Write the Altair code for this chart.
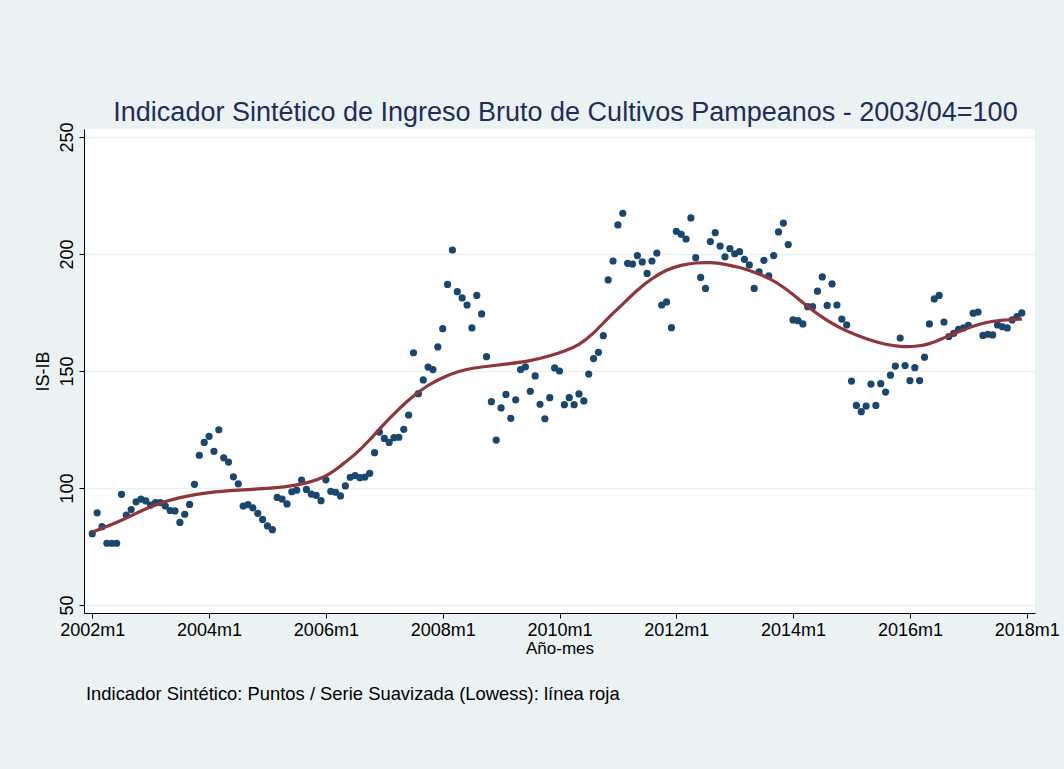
import altair as alt
import pandas as pd

# Indicador Sintético mensual, 2002m1 ... 2017m12 (192 meses)
indicador = [
    80.5, 89.4, 83.5, 76.4, 76.4, 76.4, 97.3, 88.4, 90.8, 94.1, 95.3, 94.5,
    92.7, 93.8, 93.8, 92.3, 90.4, 90.2, 85.3, 88.8, 93.0, 101.6, 114.0, 119.5,
    122.1, 115.7, 124.9, 112.9, 111.1, 104.8, 101.8, 92.3, 92.9, 91.5, 89.2, 86.6,
    83.8, 82.2, 96.0, 95.3, 93.2, 98.4, 99.1, 103.4, 99.4, 97.4, 96.9, 94.6,
    103.5, 98.6, 98.2, 96.6, 100.9, 104.6, 105.3, 104.4, 104.7, 106.3, 115.1, 123.9,
    121.2, 119.5, 121.5, 121.7, 125.1, 131.2, 157.8, 140.3, 146.2, 151.7, 150.6, 160.3,
    168.1, 187.0, 201.7, 183.9, 181.2, 178.2, 168.4, 182.3, 174.4, 156.1, 136.9, 120.5,
    134.2, 140.0, 129.8, 137.7, 150.6, 151.8, 141.3, 147.9, 135.8, 129.6, 138.6, 151.3,
    150.0, 135.6, 138.6, 135.6, 140.2, 137.2, 148.7, 155.3, 158.0, 165.1, 188.9, 197.0,
    212.4, 217.4, 196.0, 195.7, 199.3, 196.6, 191.7, 197.0, 200.4, 178.2, 179.5, 168.5,
    209.7, 208.4, 206.4, 215.4, 198.4, 190.0, 185.3, 205.3, 209.1, 203.4, 198.8, 202.3,
    200.1, 201.0, 197.7, 195.3, 185.3, 192.4, 197.3, 190.7, 199.3, 209.4, 213.2, 204.0,
    171.8, 171.5, 170.1, 177.5, 177.5, 184.1, 190.2, 178.0, 187.2, 178.2, 172.2, 169.7,
    145.7, 135.3, 132.6, 135.0, 144.4, 135.3, 144.6, 141.0, 148.2, 152.1, 164.1, 152.3,
    145.9, 151.4, 145.9, 155.9, 170.1, 180.8, 182.3, 170.9, 164.7, 166.1, 167.8, 168.4,
    169.5, 174.7, 175.2, 165.2, 165.7, 165.4, 169.7, 168.9, 168.4, 171.8, 173.2, 174.8,
]
meses = list(range(len(indicador)))  # 0 = 2002m1

# Serie suavizada (Lowess)
lowess_mes = [0, 6, 12, 18, 24, 30, 36, 42, 48, 51, 54, 57, 60, 63, 66, 69, 72, 75,
              78, 84, 90, 94, 97, 100, 103, 106, 109, 112, 115, 118, 121, 124, 127,
              130, 133, 136, 139, 142, 145, 148, 151, 154, 157, 160, 163, 166, 169,
              172, 175, 178, 181, 184, 187, 191]
lowess_val = [81.2, 85.9, 92.5, 96.2, 98.2, 99.1, 99.8, 100.9, 104.5, 109.5, 114.2,
              120.5, 127.5, 133.8, 139.5, 144.0, 147.3, 149.7, 151.3, 152.7, 154.2,
              156.4, 158.5, 161.0, 166.0, 172.8, 178.5, 184.7, 189.6, 193.3, 195.3,
              196.3, 196.4, 195.7, 194.3, 192.3, 189.8, 186.0, 181.0, 175.8, 171.5,
              168.0, 165.3, 163.0, 161.3, 160.4, 160.4, 161.4, 164.2, 166.8, 169.3,
              171.0, 171.8, 172.2]

x_ticks = [0, 24, 48, 72, 96, 120, 144, 168, 192]
y_ticks = [50, 100, 150, 200, 250]

titulo = "Indicador Sintético de Ingreso Bruto de Cultivos Pampeanos - 2003/04=100"
nota = "Indicador Sintético: Puntos / Serie Suavizada (Lowess): línea roja"

FONT = "Liberation Sans"
W, H = 951, 484

df_p = pd.DataFrame({"mes": meses, "valor": indicador})
df_l = pd.DataFrame({"mes": lowess_mes, "valor": lowess_val})

x_scale = alt.Scale(domain=[-1.7, 193.7], nice=False, zero=False)
y_scale = alt.Scale(domain=[46.6, 253.4], nice=False, zero=False)

x_axis = alt.Axis(
    values=x_ticks,
    labelExpr="(2002 + datum.value / 12) + 'm1'",
    title="Año-mes",
    grid=False,
    domainColor="black", domainWidth=1,
    tickColor="black", tickSize=5, tickWidth=1,
    labelFont=FONT, labelFontSize=18, labelColor="black", labelPadding=3,
    labelFlush=False, labelOverlap=False,
    titleFont=FONT, titleFontSize=17, titleFontWeight="normal", titleColor="black",
    titlePadding=1,
)
y_axis = alt.Axis(
    values=y_ticks,
    title="IS-IB",
    grid=True, gridColor="#EAF2F3", gridWidth=1.5,
    domainColor="black", domainWidth=1,
    tickColor="black", tickSize=5, tickWidth=1,
    labelFont=FONT, labelFontSize=18, labelColor="black",
    labelAngle=270, labelAlign="center", labelBaseline="alphabetic", labelPadding=7,
    labelFlush=False, labelOverlap=False,
    titleFont=FONT, titleFontSize=18, titleFontWeight="normal", titleColor="black",
    titlePadding=6,
)

puntos = alt.Chart(df_p).mark_circle(size=52, color="#1A476F", opacity=1).encode(
    x=alt.X("mes:Q", scale=x_scale, axis=x_axis),
    y=alt.Y("valor:Q", scale=y_scale, axis=y_axis),
)

linea = alt.Chart(df_l).mark_line(
    color="#90353B", strokeWidth=3.2, interpolate="basis"
).encode(
    x=alt.X("mes:Q", scale=x_scale),
    y=alt.Y("valor:Q", scale=y_scale),
)

pie = alt.Chart(alt.Data(values=[{"t": nota}])).mark_text(
    align="left", baseline="middle", font=FONT, fontSize=18.4, color="black"
).encode(
    x=alt.value(2),
    y=alt.value(565),
    text="t:N",
)

chart = alt.layer(puntos, linea, pie).properties(
    width=W,
    height=H,
    title=alt.TitleParams(
        text=titulo, font=FONT, fontSize=27, fontWeight="normal",
        color="#1E2D5A", anchor="middle", offset=-5, dx=6,
    ),
    background="#EAF2F3",
    padding={"left": 84, "top": 129, "right": 29, "bottom": 156},
    autosize=alt.AutoSizeParams(type="none"),
).configure_view(fill="white", stroke=None)

chart.save("out.html", embed_options={"renderer": "svg", "actions": False})
